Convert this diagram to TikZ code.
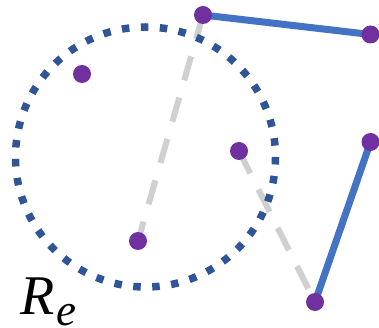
\documentclass[tikz,border=0pt]{standalone}
\usepackage{fontspec}
\newfontfamily\labelserif{Liberation Serif}
\begin{document}
\begin{tikzpicture}[x=1pt,y=-1pt,
  pt/.style={circle,fill=ptpurple,minimum size=18pt,inner sep=0pt},
  solidlink/.style={draw=linkblue,line width=7pt},
  graylink/.style={draw=graydash,line width=6pt,dash pattern=on 25pt off 18pt},
  ring/.style={draw=ringblue,line width=7.5pt,dash pattern=on 7.5pt off 11.5pt}]
\definecolor{ptpurple}{HTML}{7030A0}
\definecolor{linkblue}{HTML}{4472C4}
\definecolor{ringblue}{HTML}{2F5597}
\definecolor{graydash}{HTML}{D0D0D0}
\useasboundingbox (0,0) rectangle (379,328);
\coordinate (a) at (82,74);
\coordinate (b) at (203,15);
\coordinate (c) at (370.5,34.5);
\coordinate (d) at (239,151);
\coordinate (e) at (370.5,142);
\coordinate (f) at (138,241);
\coordinate (g) at (315,302);
\coordinate (o) at (145.5,157);
\draw[graylink] (b) -- (f);
\draw[graylink] (d) -- (g);
\draw[ring] (o) circle[radius=130];
\draw[solidlink] (b) -- (c);
\draw[solidlink] (e) -- (g);
\foreach \p in {a,b,c,d,e,f,g} \node[pt] (n\p) at (\p) {};
\node[anchor=base west,inner sep=0pt,outer sep=0pt] (lbl) at (20,314)
  {\labelserif\itshape\fontsize{56}{60}\selectfont R\kern2pt\lower11pt\hbox{\fontsize{45}{50}\selectfont e}};
\end{tikzpicture}
\end{document}
